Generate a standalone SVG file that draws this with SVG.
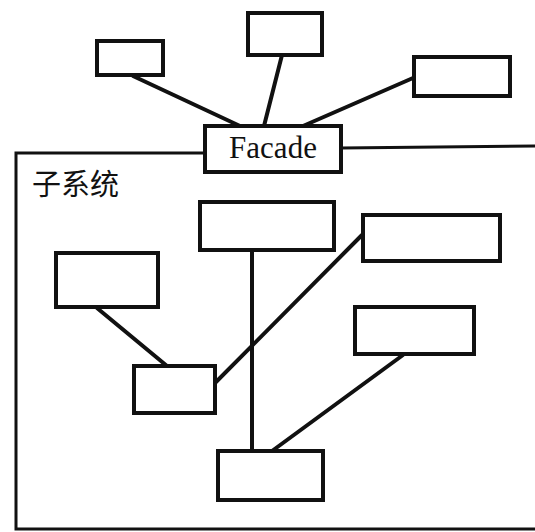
<svg xmlns="http://www.w3.org/2000/svg" width="535" height="532" viewBox="0 0 535 532">
<style>
.box{fill:#fff;stroke:#111;stroke-width:4}
.conn line{stroke:#111;stroke-width:4;stroke-linecap:round}
.frame{fill:none;stroke:#111;stroke-width:3}
.lbl{font-family:"Liberation Serif","Times New Roman",serif;font-size:31px;fill:#111}
.cn{font-family:"Noto Sans CJK SC",sans-serif;font-size:29px;fill:#111}
</style>
<rect width="535" height="532" fill="#fff"/>
<g id="subsystem">
<path class="frame" d="M205,153 L16,153 L16,529 L535,529 M341,148 L535,146"/>
<text class="cn" x="32" y="195">子系统</text>
</g>
<g class="conn" id="connectors">
<line x1="133" y1="76" x2="240" y2="126"/>
<line x1="282" y1="55" x2="264" y2="126"/>
<line x1="413" y1="78" x2="303" y2="126"/>
<line x1="97" y1="308" x2="167" y2="366"/>
<line x1="252" y1="251" x2="252" y2="451"/>
<line x1="215" y1="383" x2="362" y2="235"/>
<line x1="403" y1="355" x2="272" y2="451"/>
</g>
<g id="client1"><rect class="box" x="97" y="41" width="66" height="34"/></g>
<g id="client2"><rect class="box" x="248" y="13" width="74" height="42"/></g>
<g id="client3"><rect class="box" x="414" y="57" width="96" height="39"/></g>
<g id="facade"><rect class="box" x="205" y="126" width="136" height="46"/><text class="lbl" x="273" y="158" text-anchor="middle">Facade</text></g>
<g id="class1"><rect class="box" x="200" y="202" width="134" height="48"/></g>
<g id="class2"><rect class="box" x="363" y="215" width="137" height="46"/></g>
<g id="class3"><rect class="box" x="56" y="253" width="102" height="54"/></g>
<g id="class4"><rect class="box" x="355" y="307" width="119" height="47"/></g>
<g id="class5"><rect class="box" x="134" y="366" width="81" height="47"/></g>
<g id="class6"><rect class="box" x="218" y="451" width="105" height="49"/></g>
</svg>
